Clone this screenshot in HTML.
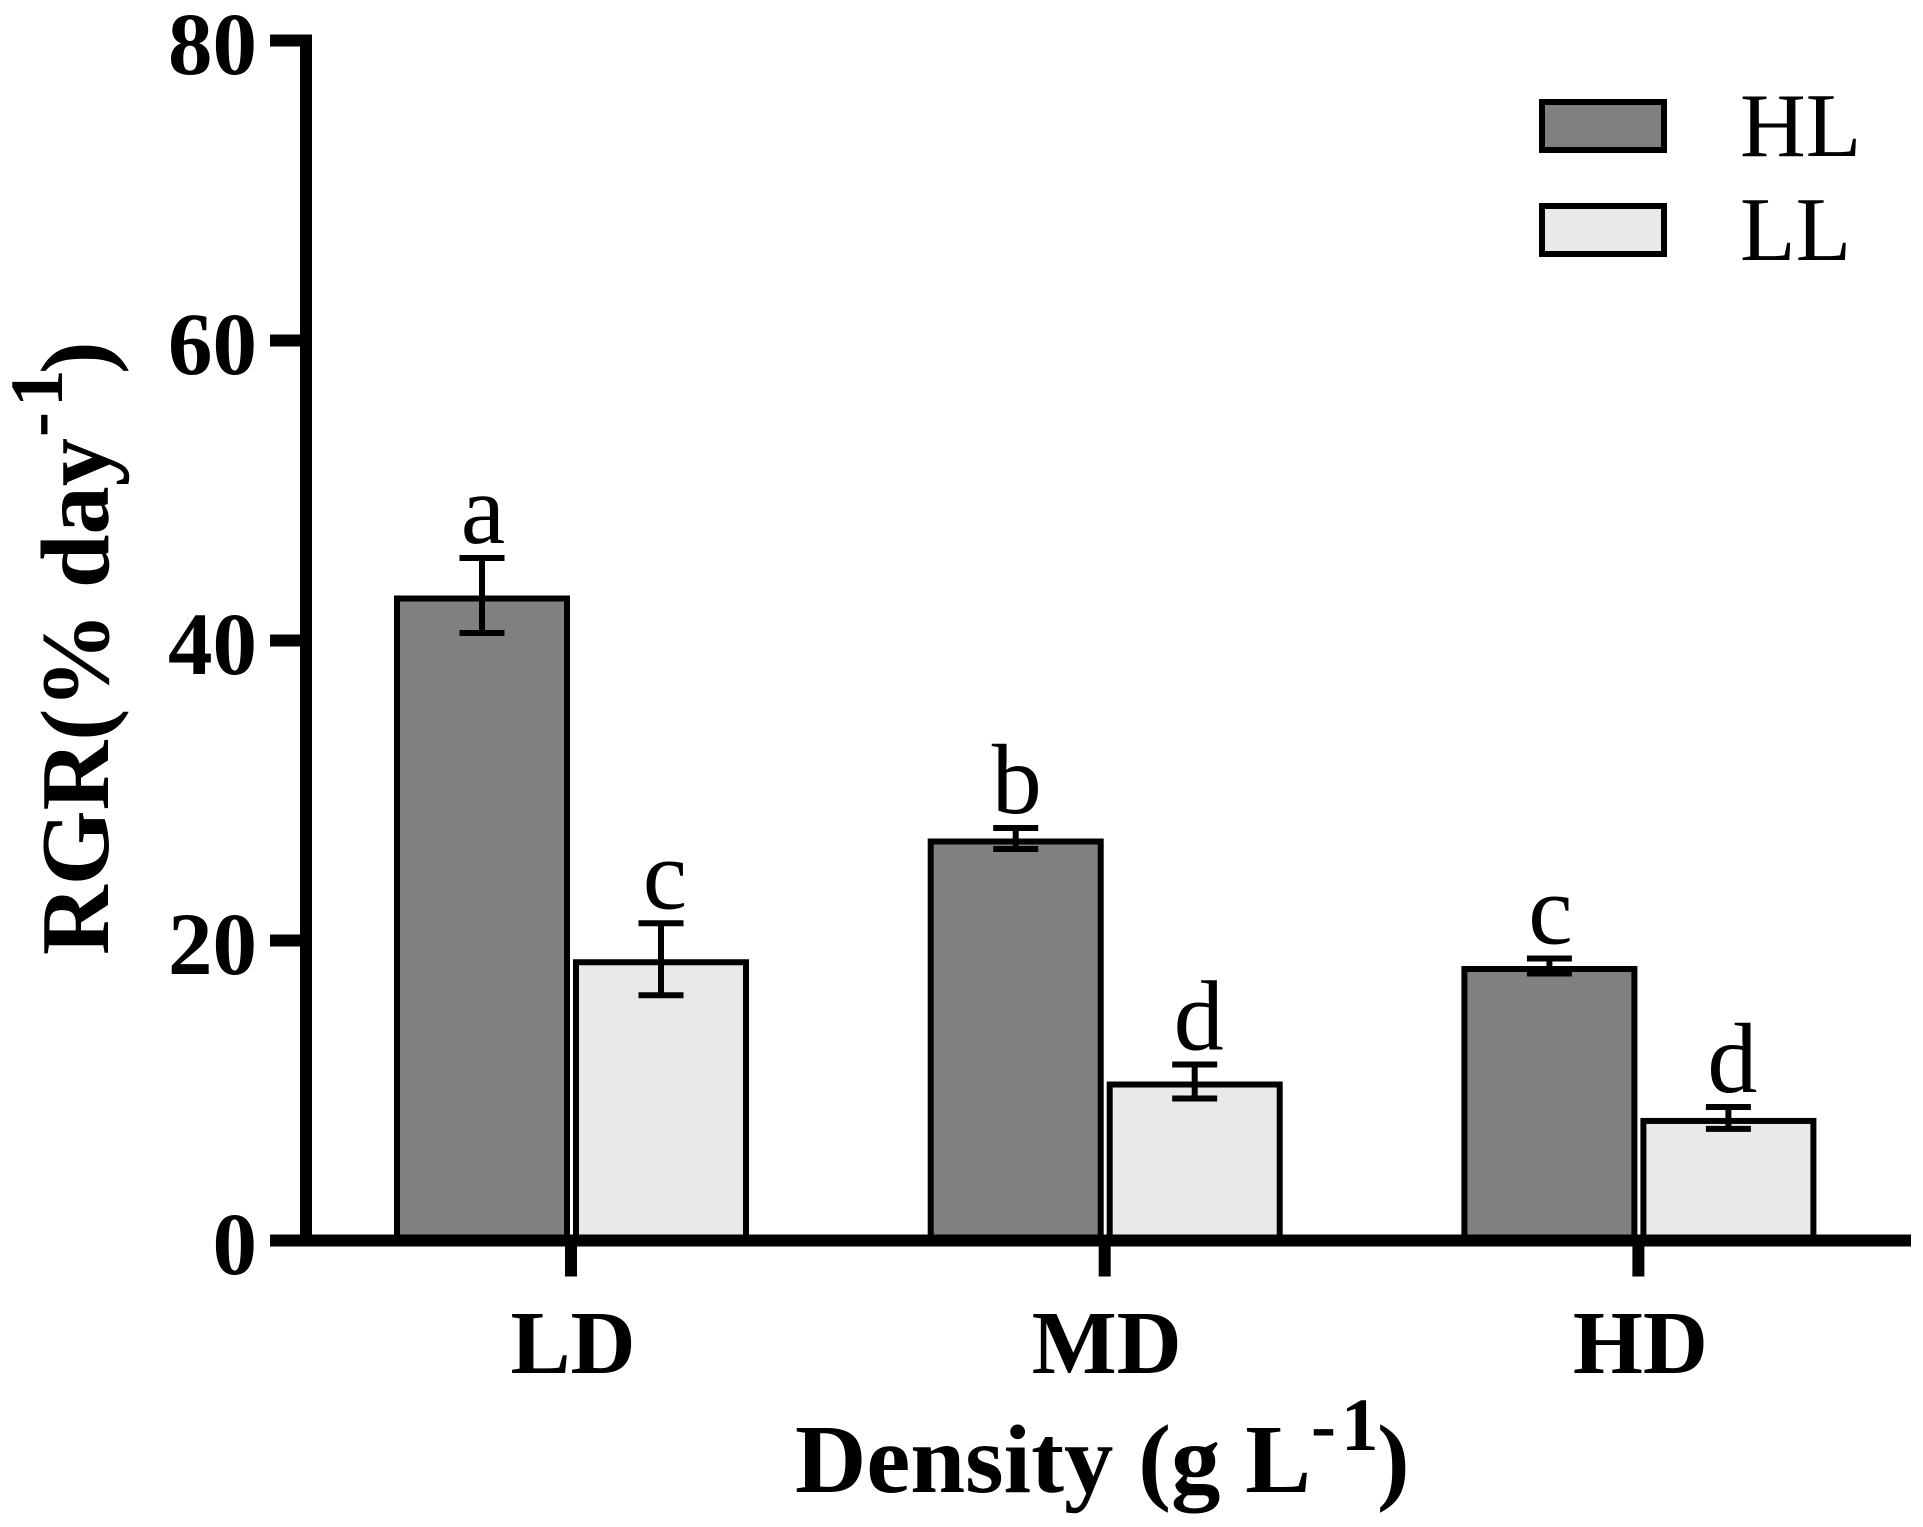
<!DOCTYPE html>
<html lang="en">
<head>
<meta charset="utf-8">
<title>RGR by density and light</title>
<style>
html,body{margin:0;padding:0;background:#fff;}
svg{display:block;}
text{font-family:"Liberation Serif","Times New Roman",serif;fill:#000;}
.b{font-weight:bold;}
</style>
</head>
<body>
<svg id="chart" xmlns="http://www.w3.org/2000/svg" width="1923" height="1527" viewBox="0 0 1923 1527">
  <rect x="0" y="0" width="1923" height="1527" fill="#fff"/>
  <g id="bars"></g>
  <g id="axes"></g>
  <g id="errors"></g>
  <g id="letters"></g>

  <g transform="translate(108,955) rotate(-90)">
    <text class="b" x="0" y="0" font-size="98" textLength="517" lengthAdjust="spacingAndGlyphs">RGR(% day</text>
    <text class="b" x="518" y="-46" font-size="75">-</text>
    <text class="b" x="548" y="-46" font-size="75">1</text>
    <text class="b" x="581" y="0" font-size="98">)</text>
  </g>
  <g>
    <text class="b" x="795" y="1492" font-size="98" textLength="516" lengthAdjust="spacingAndGlyphs">Density (g L</text>
    <text class="b" x="1311" y="1450" font-size="75">-</text>
    <text class="b" x="1341" y="1450" font-size="75">1</text>
    <text class="b" x="1377" y="1492" font-size="98">)</text>
  </g>

  <g>
    <g>
      <rect x="1542" y="102" width="122" height="48" fill="#808080" stroke="#000" stroke-width="6"/>
      <text x="1740" y="156" font-size="91">HL</text>
    </g>
    <g>
      <rect x="1542" y="206" width="122" height="48" fill="#e9e9e9" stroke="#000" stroke-width="6"/>
      <text x="1740" y="260" font-size="91">LL</text>
    </g>
  </g>
</svg>
<script>
var categories = ['LD', 'MD', 'HD'];
var hlValues = [43.0, 26.8, 18.3];
var llValues = [18.75, 10.6, 8.17];
var hlErrors = [2.5, 0.7, 0.5];
var llErrors = [2.4, 1.13, 0.73];
var hlLetters = ['a', 'b', 'c'];
var llLetters = ['c', 'd', 'd'];
var yTicks = [0, 20, 40, 60, 80];

var SVGNS = 'http://www.w3.org/2000/svg';
function yScale(v) { return 1240.5 - v * 15; }
function xScale(i) { return 571 + i * 533.7; }
function make(parent, tag, attrs, text) {
  var el = document.createElementNS(SVGNS, tag);
  for (var k in attrs) { el.setAttribute(k, attrs[k]); }
  if (text !== undefined) { el.textContent = text; }
  parent.appendChild(el);
  return el;
}
var barsG = document.getElementById('bars');
var axesG = document.getElementById('axes');
var errorsG = document.getElementById('errors');
var lettersG = document.getElementById('letters');
var BAR_W = 170, STROKE = 6;

function drawSeries(values, errors, letters, offset, letterDx, fill) {
  values.forEach(function (v, i) {
    var cx = xScale(i) + offset;
    var top = yScale(v) + STROKE / 2;
    var bar = make(barsG, 'rect', {x: cx - BAR_W / 2, y: top, width: BAR_W, height: Math.max(0, yScale(0) - top), fill: fill, stroke: '#000', 'stroke-width': STROKE});
    
    

    var hi = yScale(v + errors[i]);
    var lo = yScale(v - errors[i]);
    var stem = make(errorsG, 'line', {x1: cx, x2: cx, y1: hi, y2: lo, stroke: '#000', 'stroke-width': 6});
    
    
    var capTop = make(errorsG, 'line', {x1: cx - 22.5, x2: cx + 22.5, y1: hi, y2: hi, stroke: '#000', 'stroke-width': 6});
    
    
    var capLow = make(errorsG, 'line', {x1: cx - 22.5, x2: cx + 22.5, y1: lo, y2: lo, stroke: '#000', 'stroke-width': 6});
    
    

    var letter = make(lettersG, 'text', {x: cx + letterDx, y: hi - 15, 'font-size': 100, 'text-anchor': 'middle'}, letters[i]);
    
    
  });
}
drawSeries(hlValues, hlErrors, hlLetters, -89, 1, '#808080');
drawSeries(llValues, llErrors, llLetters, 90, 4, '#e9e9e9');

var yAxis = make(axesG, 'line', {x1: 306, x2: 306, y1: 34.5, y2: 1246.5, stroke: '#000', 'stroke-width': 12});


var xAxis = make(axesG, 'line', {x1: 270, x2: 1911, y1: yScale(0), y2: yScale(0), stroke: '#000', 'stroke-width': 12});



yTicks.forEach(function (t) {
  var y = yScale(t);
  var tick = make(axesG, 'line', {x1: 270, x2: 306, y1: y, y2: y, stroke: '#000', 'stroke-width': 12});
  
  
  var label = make(axesG, 'text', {x: 257, y: y + 33.5, 'font-size': 89, 'font-weight': 'bold', 'text-anchor': 'end'}, String(t));
  
  
});
categories.forEach(function (c, i) {
  var x = xScale(i);
  var tick = make(axesG, 'line', {x1: x, x2: x, y1: yScale(0), y2: 1276.5, stroke: '#000', 'stroke-width': 12});
  
  
  var label = make(axesG, 'text', {x: x + 2, y: 1373, 'font-size': 90, 'font-weight': 'bold', 'text-anchor': 'middle'}, c);
  
  
});
</script>
</body>
</html>
